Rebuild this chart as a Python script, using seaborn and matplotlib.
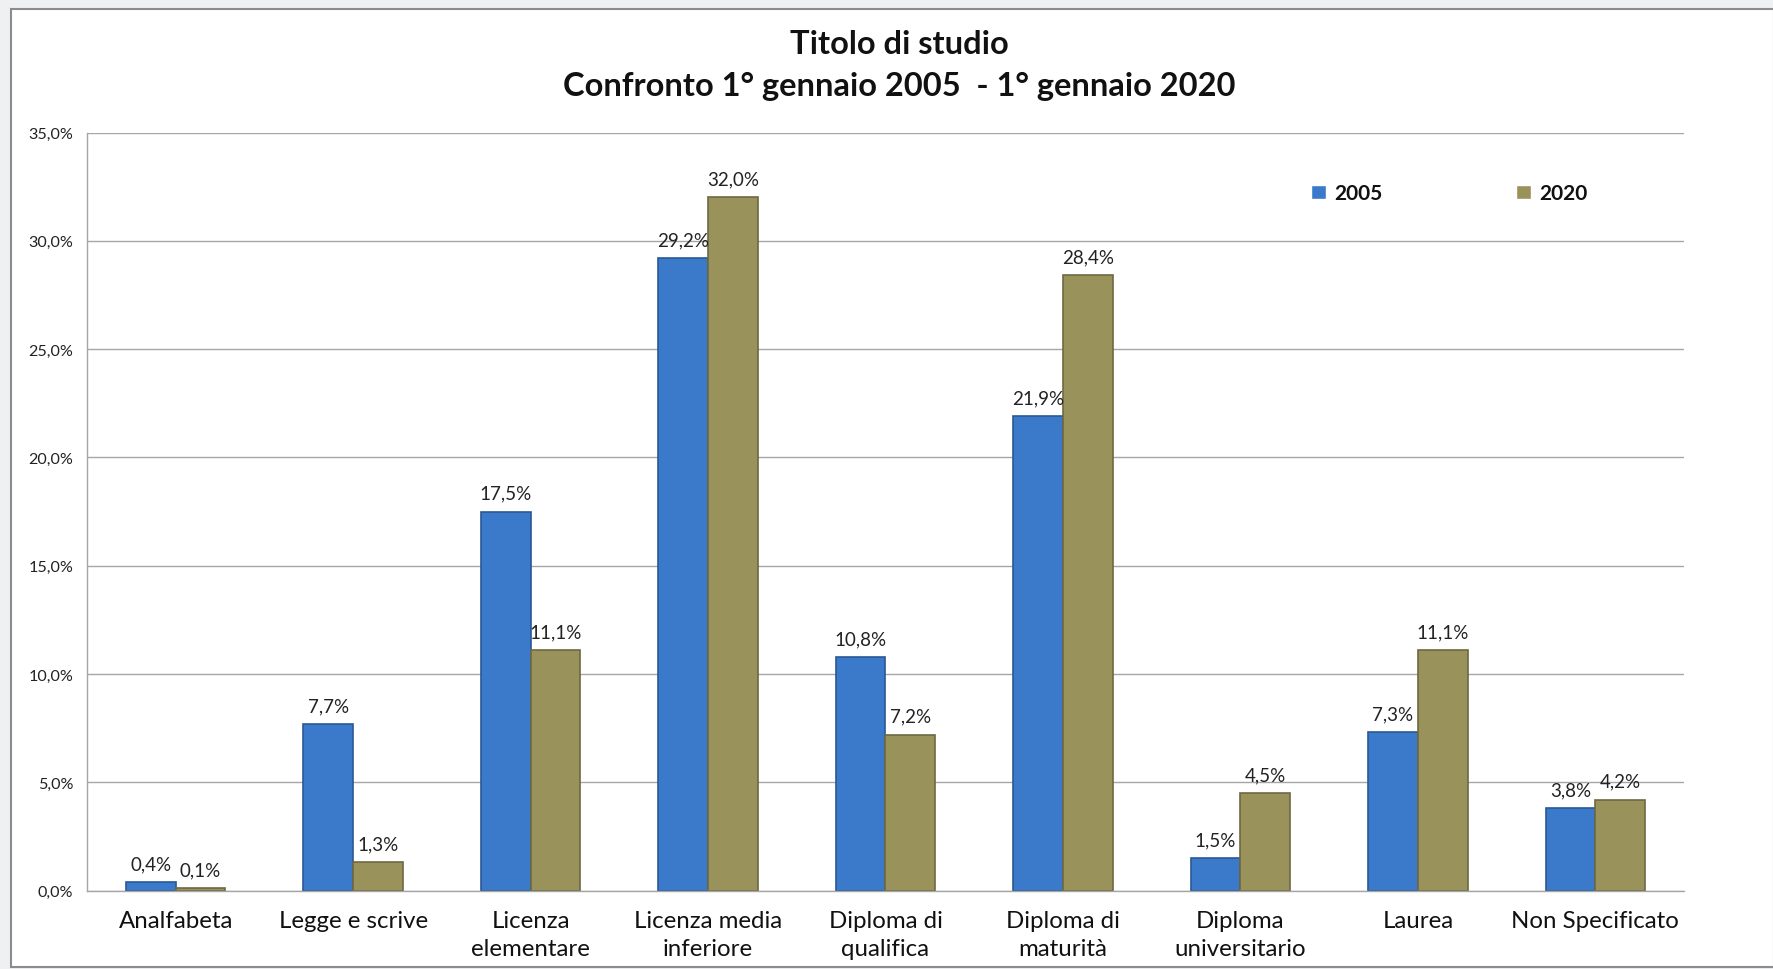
import pandas as pd
import matplotlib
matplotlib.use("Agg")
import matplotlib.pyplot as plt
import seaborn as sns
from matplotlib.patches import Rectangle
from matplotlib.ticker import FuncFormatter

# Chart data
categories = ["Analfabeta", "Legge e scrive", "Licenza\nelementare", "Licenza media\ninferiore",
              "Diploma di\nqualifica", "Diploma di\nmaturità", "Diploma\nuniversitario",
              "Laurea", "Non Specificato"]
values_2005 = [0.4, 7.7, 17.5, 29.2, 10.8, 21.9, 1.5, 7.3, 3.8]
values_2020 = [0.1, 1.3, 11.1, 32.0, 7.2, 28.4, 4.5, 11.1, 4.2]
years = ["2005", "2020"]
y_ticks = [0, 5, 10, 15, 20, 25, 30, 35]

colors = {"2005": "#3b7acb", "2020": "#9a925b"}
edges = {"2005": "#2b5893", "2020": "#6d6842"}


def pct(v):
    return f"{v:.1f}%".replace(".", ",")


df = pd.DataFrame({
    "Titolo": categories * 2,
    "Anno": [years[0]] * len(categories) + [years[1]] * len(categories),
    "Valore": values_2005 + values_2020,
})

sns.set_theme(style="white")
plt.rcParams["font.family"] = ["Lato", "DejaVu Sans"]

W, H = 1774, 970
fig = plt.figure(figsize=(W / 100, H / 100), dpi=100, facecolor="#eef0f2")
fig.patches.append(Rectangle((11 / W, 2 / H), (W - 11) / W, (960 - 2) / H,
                             transform=fig.transFigure, facecolor="white",
                             edgecolor="#8c8c8c", lw=1.5, zorder=-5))

ax = fig.add_axes([87 / W, 1 - 891.5 / H, 1597 / W, 758 / H])
ax.set_facecolor("none")
sns.barplot(data=df, x="Titolo", y="Valore", hue="Anno", palette=colors,
            width=0.56, saturation=1, ax=ax)

for cont, yr in zip(ax.containers, years):
    for bar in cont:
        bar.set_edgecolor(edges[yr])
        bar.set_linewidth(1.2)
    ax.bar_label(cont, labels=[pct(v) for v in cont.datavalues], padding=7,
                 fontsize=13.5, color="#222222")

ax.set_ylim(0, 35)
ax.set_xlim(-0.5, len(categories) - 0.5)
ax.set_yticks(y_ticks)
ax.yaxis.set_major_formatter(FuncFormatter(lambda v, _: pct(v)))
ax.yaxis.grid(True, color="#a6a6a6", lw=1)
ax.set_axisbelow(True)

ax.set_xticks([i - 0.5 for i in range(len(categories) + 1)], minor=True)
ax.tick_params(axis="x", which="major", length=0, pad=14, labelsize=17.3, colors="#111111")
ax.tick_params(axis="x", which="minor", length=9, width=1, color="#a6a6a6", direction="out")
ax.tick_params(axis="y", which="major", length=5, width=1, color="#a6a6a6", direction="out",
               labelsize=11.6, labelcolor="#222222", pad=5)
ax.xaxis.set_tick_params(bottom=True)
for lbl in ax.get_xticklabels():
    lbl.set_linespacing(1.4)

for side in ["top", "right"]:
    ax.spines[side].set_visible(False)
for side in ["left", "bottom"]:
    ax.spines[side].set_color("#a6a6a6")
    ax.spines[side].set_linewidth(1)

ax.set_xlabel("")
ax.set_ylabel("")

leg = ax.legend(ncol=2, frameon=False, loc="center left", bbox_to_anchor=(0.755, 0.920),
                handlelength=0.7, handleheight=0.7, handletextpad=0.4, columnspacing=6.4,
                prop={"size": 15, "weight": "bold"})
for t in leg.get_texts():
    t.set_color("#111111")

fig.text(0.507, 1 - 45 / H, "Titolo di studio", ha="center", va="center",
         fontsize=23.5, fontweight="bold", color="#111111")
fig.text(0.507, 1 - 86 / H, "Confronto 1° gennaio 2005  - 1° gennaio 2020", ha="center",
         va="center", fontsize=23.5, fontweight="bold", color="#111111")

fig.savefig("out.png", dpi=100, facecolor=fig.get_facecolor())
